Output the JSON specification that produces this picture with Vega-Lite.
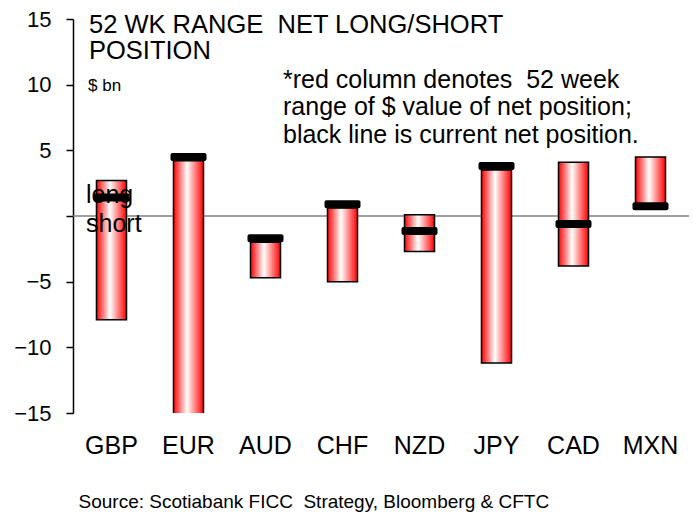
{
  "$schema": "https://vega.github.io/schema/vega-lite/v6.json",
  "autosize": {"type": "none"},
  "width": 616,
  "height": 394,
  "padding": {"left": 73, "top": 19, "right": 4, "bottom": 99},
  "background": "white",
  "config": {"view": {"stroke": null}, "font": "Liberation Sans"},
  "data": {"values": [
    {"ccy": "GBP", "low": -7.9, "high": 2.7, "current": 1.4},
    {"ccy": "EUR", "low": -16, "high": 4.2, "current": 4.5},
    {"ccy": "AUD", "low": -4.7, "high": -2.0, "current": -1.7},
    {"ccy": "CHF", "low": -5.0, "high": 0.6, "current": 0.9},
    {"ccy": "NZD", "low": -2.7, "high": 0.1, "current": -1.15},
    {"ccy": "JPY", "low": -11.2, "high": 3.5, "current": 3.8},
    {"ccy": "CAD", "low": -3.8, "high": 4.1, "current": -0.6},
    {"ccy": "MXN", "low": 0.8, "high": 4.5, "current": 0.75}
  ]},
  "encoding": {
    "x": {
      "field": "ccy", "type": "nominal", "sort": null,
      "scale": {"paddingInner": 0, "paddingOuter": 0},
      "axis": {
        "title": "Source: Scotiabank FICC\u00a0 Strategy, Bloomberg & CFTC",
        "titleFont": "Liberation Sans", "titleFontSize": 19, "titleFontWeight": "normal", "titleColor": "black",
        "titleAnchor": "start", "titleAlign": "left", "titleBaseline": "alphabetic", "titleX": 5, "titleY": 94,
        "domain": false, "ticks": false, "tickSize": 0,
        "labelAngle": 0, "labelFontSize": 25, "labelColor": "black", "labelBaseline": "alphabetic", "labelPadding": 40
      }
    }
  },
  "layer": [
    {
      "data": {"values": [{}]},
      "mark": {"type": "rule", "color": "#808080", "strokeWidth": 1.5},
      "encoding": {"y": {"datum": 0, "type": "quantitative"}, "x": null}
    },
    {
      "mark": {
        "type": "bar", "clip": true, "width": {"band": 0.39},
        "stroke": "black", "strokeWidth": 1.5,
        "fill": {"gradient": "linear", "x1": 0, "x2": 1, "y1": 0, "y2": 0,
          "stops": [{"offset": 0, "color": "#ff0000"}, {"offset": 0.45, "color": "#ffffff"}, {"offset": 1, "color": "#ff0000"}]}
      },
      "encoding": {
        "y": {
          "field": "low", "type": "quantitative",
          "scale": {"domain": [-15, 15], "nice": false, "zero": false},
          "axis": {
            "title": null, "values": [-15, -10, -5, 0, 5, 10, 15],
            "labelExpr": "datum.value == 0 ? '' : datum.label",
            "grid": false, "domainColor": "black", "domainWidth": 1.5,
            "tickColor": "black", "tickWidth": 1.5, "tickSize": 7,
            "labelFontSize": 22, "labelColor": "black", "labelPadding": 15
          }
        },
        "y2": {"field": "high"}
      }
    },
    {
      "mark": {"type": "tick", "color": "black", "thickness": 8, "size": 36, "opacity": 1, "cornerRadius": 2},
      "encoding": {"y": {"field": "current", "type": "quantitative"}}
    },
    {
      "data": {"values": [{}]},
      "mark": {"type": "text", "text": ["52 WK RANGE\u00a0 NET LONG/SHORT", "POSITION"], "align": "left", "baseline": "alphabetic", "fontSize": 25.5, "lineHeight": 26, "dx": -22.5, "color": "black"},
      "encoding": {"x": {"datum": "GBP"}, "y": {"datum": 13.93, "type": "quantitative"}}
    },
    {
      "data": {"values": [{}]},
      "mark": {"type": "text", "text": "$ bn", "align": "left", "baseline": "alphabetic", "fontSize": 17, "dx": -23.5, "color": "black"},
      "encoding": {"x": {"datum": "GBP"}, "y": {"datum": 9.48, "type": "quantitative"}}
    },
    {
      "data": {"values": [{}]},
      "mark": {"type": "text", "text": ["*red column denotes\u00a0 52 week", "range of $ value of net position;", "black line is current net position."], "align": "left", "baseline": "alphabetic", "fontSize": 25, "lineHeight": 27.5, "dx": 17.5, "color": "black"},
      "encoding": {"x": {"datum": "AUD"}, "y": {"datum": 9.75, "type": "quantitative"}}
    },
    {
      "data": {"values": [{}]},
      "mark": {"type": "text", "text": "long", "align": "left", "baseline": "alphabetic", "fontSize": 25, "dx": -25.5, "color": "black"},
      "encoding": {"x": {"datum": "GBP"}, "y": {"datum": 0.99, "type": "quantitative"}}
    },
    {
      "data": {"values": [{}]},
      "mark": {"type": "text", "text": "short", "align": "left", "baseline": "alphabetic", "fontSize": 25, "dx": -25.5, "color": "black"},
      "encoding": {"x": {"datum": "GBP"}, "y": {"datum": -1.22, "type": "quantitative"}}
    }
  ]
}
